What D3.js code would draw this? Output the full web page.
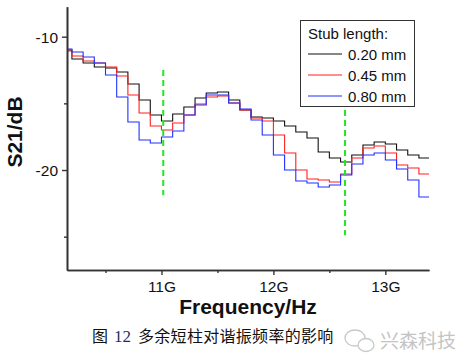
<!DOCTYPE html>
<html><head><meta charset="utf-8">
<script src="https://cdn.jsdelivr.net/npm/d3@7/dist/d3.min.js"></script>
<style>body{margin:0;background:#fff}svg{display:block}</style>
</head><body><svg id="c" width="461" height="359"></svg>
<script>
// step starts (GHz)
const freqs = [10.156,10.2,10.3,10.4,10.5,10.6,10.7,10.8,10.9,11.0,11.1,11.2,11.3,11.4,11.5,11.6,11.7,11.8,11.9,12.0,12.1,12.2,12.3,12.4,12.5,12.6,12.7,12.8,12.9,13.0,13.1,13.2,13.3];
const s020 = [-11.00,-11.67,-11.97,-12.27,-12.35,-12.65,-13.55,-14.75,-15.87,-16.32,-15.80,-15.27,-14.60,-14.22,-14.15,-14.75,-15.50,-16.02,-16.10,-16.32,-16.70,-17.15,-17.60,-18.65,-19.10,-19.40,-18.87,-18.12,-17.90,-18.05,-18.50,-18.87,-19.10];
const s045 = [-11.07,-11.45,-11.82,-11.97,-12.27,-12.95,-14.37,-15.72,-16.70,-17.00,-16.47,-15.87,-15.05,-14.52,-14.45,-14.97,-15.50,-16.10,-16.32,-17.37,-18.72,-20.00,-20.67,-20.75,-20.90,-20.30,-19.10,-18.35,-18.20,-18.72,-19.62,-19.85,-20.30];
const s080 = [-10.92,-11.15,-11.52,-11.97,-12.87,-14.52,-16.40,-17.75,-17.97,-17.52,-17.07,-15.87,-15.12,-14.37,-14.37,-14.97,-15.42,-16.25,-17.37,-18.87,-20.00,-20.82,-20.97,-21.27,-21.12,-20.37,-19.55,-18.87,-18.72,-19.25,-19.92,-20.75,-22.02];
const seriesNames = ["0.20 mm","0.45 mm","0.80 mm"];
const seriesColors = ["#111111","#ff2020","#2030ff"];
const xMajor = [11,12,13];
const xMajorLabels = ["11G","12G","13G"];
const xMinor = [10.5,11.5,12.5];
const yMajor = [-10,-20];
const yMinor = [-15,-25];
// green dashed markers: [freq, from dB, to dB]
const markerF = [11.016, 12.64];
const markerTop = [-12.5, -14.0];
const markerBot = [-21.9, -24.9];

const svg = d3.select("#c");
const x = d3.scaleLinear().domain([10.156, 13.39]).range([67, 429]);
const y = d3.scaleLinear().domain([-27.5, -7.75]).range([270, 6.7]);
const font = "'Liberation Sans', Arial, sans-serif";

const allSeries = [s020, s045, s080];
const line = d3.line().x(d => x(d[0])).y(d => y(d[1])).curve(d3.curveStepAfter);
allSeries.forEach((s, i) => {
  const pts = freqs.map((f, j) => [f, s[j]]);
  pts.push([x.domain()[1], s[s.length - 1]]);
  svg.append("path").datum(pts).attr("d", line)
    .attr("fill", "none").attr("stroke", seriesColors[i]).attr("stroke-width", 1.1);
});

// markers
markerF.forEach((f, i) => {
  svg.append("line").attr("x1", x(f)).attr("x2", x(f))
    .attr("y1", y(markerTop[i])).attr("y2", y(markerBot[i]))
    .attr("stroke", "#22e622").attr("stroke-width", 2).attr("stroke-dasharray", "6,4");
});

// axes
const axisColor = "#333";
const gx = svg.append("g").attr("transform", "translate(0,270)");
gx.call(d3.axisBottom(x).tickValues(xMajor).tickFormat((d, i) => xMajorLabels[i]).tickSize(5).tickSizeOuter(0));
const gxm = svg.append("g").attr("transform", "translate(0,270)");
gxm.call(d3.axisBottom(x).tickValues(xMinor).tickFormat("").tickSize(3).tickSizeOuter(0));
const gy = svg.append("g").attr("transform", "translate(67,0)");
gy.call(d3.axisLeft(y).tickValues(yMajor).tickFormat(d => String(d)).tickSize(5).tickSizeOuter(0));
const gym = svg.append("g").attr("transform", "translate(67,0)");
gym.call(d3.axisLeft(y).tickValues(yMinor).tickFormat("").tickSize(3).tickSizeOuter(0));
[gx, gxm, gy, gym].forEach(g => {
  g.selectAll(".domain").attr("stroke", axisColor).attr("stroke-width", 1.6);
  g.selectAll(".tick line").attr("stroke", axisColor).attr("stroke-width", 1.4);
  g.selectAll("text").attr("fill", "#111").style("font-family", font).style("font-size", "15.5px");
});
gx.selectAll("text").attr("dy", null).attr("y", 21.5);
gy.selectAll("text").attr("x", -9).attr("dy", "0.36em");

// axis titles
svg.append("text").attr("x", 248).attr("y", 313.5).attr("text-anchor", "middle")
  .style("font-family", font).style("font-size", "21px").style("font-weight", "bold")
  .attr("fill", "#111").text("Frequency/Hz");
svg.append("text").attr("transform", "translate(22,132) rotate(-90)").attr("text-anchor", "middle")
  .style("font-family", font).style("font-size", "21px").style("font-weight", "bold")
  .attr("fill", "#111").text("S21/dB");

// legend
const lg = svg.append("g");
lg.append("rect").attr("x", 300.5).attr("y", 20.5).attr("width", 114).attr("height", 86)
  .attr("fill", "#fff").attr("stroke", "#333").attr("stroke-width", 1);
lg.append("text").attr("x", 308).attr("y", 39).style("font-family", font).style("font-size", "15px")
  .attr("fill", "#111").text("Stub length:");
seriesNames.forEach((n, i) => {
  const yy = 54 + i * 21;
  lg.append("line").attr("x1", 308).attr("x2", 342).attr("y1", yy).attr("y2", yy)
    .attr("stroke", seriesColors[i]).attr("stroke-width", 1.1);
  lg.append("text").attr("x", 348).attr("y", yy + 5.5).style("font-family", font).style("font-size", "15px")
    .attr("fill", "#111").text(n);
});

// caption
const cjk = "'Noto Sans CJK SC', sans-serif";
const cap = svg.append("text").attr("x", 92).attr("y", 342).style("font-family", cjk).style("font-size", "16px").attr("fill", "#111");
cap.append("tspan").text("图");
cap.append("tspan").attr("dx", 6).attr("fill", "#1c2f66").style("font-family", "'Liberation Serif', serif").style("font-size", "17px").text("12");
cap.append("tspan").attr("dx", 7).style("letter-spacing", "0.3px").text("多余短柱对谐振频率的影响");

// watermark
const wm = svg.append("g").attr("fill", "#fff").attr("stroke", "#c8c8c8").attr("stroke-width", 1.3);
wm.append("ellipse").attr("cx", 355).attr("cy", 338).attr("rx", 10).attr("ry", 8);
wm.append("ellipse").attr("cx", 366).attr("cy", 345).attr("rx", 8).attr("ry", 6.5);
svg.append("text").attr("x", 380).attr("y", 348).style("font-family", cjk).style("font-size", "19px")
  .attr("fill", "#c4c4c4").text("兴森科技");
</script></body></html>
